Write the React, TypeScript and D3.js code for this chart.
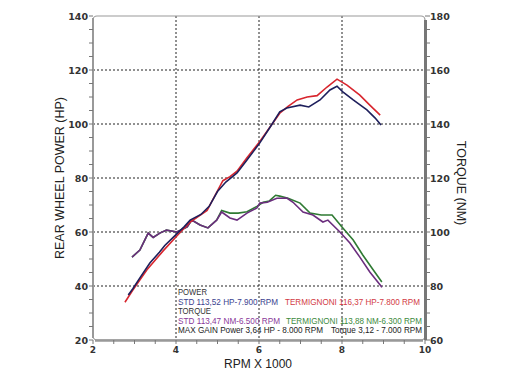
import React from "react";
import * as d3 from "d3";

// power (HP)
const stdPower: [number, number][] = [
  [2.85, 36.7], [2.96, 39], [3.13, 43], [3.37, 48.5], [3.6, 52.5], [3.73, 55], [4.0, 59],
  [4.2, 62], [4.34, 64.4], [4.6, 66.5], [4.8, 69.5], [5.0, 75], [5.2, 78.5], [5.47, 81.9],
  [5.71, 86.7], [6.02, 93], [6.27, 98.9], [6.5, 104.5], [6.67, 105.9], [6.99, 107],
  [7.2, 106.3], [7.47, 108.9], [7.71, 112.6], [7.88, 114], [8.02, 111.9], [8.27, 108.9],
  [8.6, 105.2], [8.8, 102.2], [8.94, 99.6],
];
const termiPower: [number, number][] = [
  [2.77, 34], [2.96, 38.5], [3.3, 46], [3.69, 53], [4.02, 58.5], [4.34, 63.7], [4.75, 68],
  [4.99, 75], [5.13, 79], [5.3, 80.5], [5.47, 82.5], [5.71, 87.5], [6.02, 93.5], [6.27, 99],
  [6.5, 104], [6.7, 106.5], [6.92, 108.9], [7.16, 110], [7.4, 110.5], [7.64, 113.7],
  [7.88, 116.6], [8.12, 114.4], [8.43, 110.7], [8.67, 107], [8.92, 103.3],
];

// torque (NM)
const stdTorque: [number, number][] = [
  [2.94, 90.7], [3.13, 93.3], [3.33, 99.6], [3.45, 98], [3.61, 99.6], [3.77, 100.7],
  [4.02, 100], [4.27, 101.9], [4.38, 104.4], [4.58, 102.6], [4.77, 101.5], [4.98, 104.4],
  [5.1, 107.4], [5.3, 105.2], [5.47, 104.4], [5.71, 107], [5.95, 108.9], [6.02, 110.7],
  [6.2, 111], [6.43, 112.5], [6.67, 112.6], [6.82, 111], [7.06, 107.4], [7.3, 106.3],
  [7.54, 103.7], [7.66, 104.4], [7.95, 100], [8.19, 95.9], [8.43, 90.7], [8.67, 85.2],
  [8.92, 80.4], [8.96, 79.5],
];
const termiTorque: [number, number][] = [
  [2.94, 90.7], [3.13, 93.3], [3.33, 99.6], [3.45, 98], [3.61, 99.6], [3.77, 100.7],
  [4.02, 100], [4.27, 101.9], [4.38, 104.4], [4.58, 102.6], [4.77, 101.5], [4.98, 104.4],
  [5.1, 108], [5.3, 107], [5.5, 107], [5.71, 107.5], [5.95, 109.5], [6.1, 111],
  [6.25, 111.5], [6.4, 113.6], [6.5, 113.3], [6.7, 112.5], [6.99, 110.7], [7.23, 107],
  [7.5, 106.3], [7.76, 106.3], [8.02, 101.5], [8.27, 97], [8.5, 91.5], [8.75, 86], [8.96, 81.5],
];

const rpmTicks = [2, 4, 6, 8, 10];
const hpTicks = [20, 40, 60, 80, 100, 120, 140];
const nmTicks = [60, 80, 100, 120, 140, 160, 180];

// legend rows: text, colour, start x, width
const legend = [
  [{ t: "POWER", c: "#333", x: 178, w: 29 }],
  [{ t: "STD 113,52 HP-7.900 RPM", c: "#3b3f8f", x: 178, w: 100 }, { t: "TERMIGNONI 116,37 HP-7.800 RPM", c: "#d23a44", x: 285, w: 135 }],
  [{ t: "TORQUE", c: "#333", x: 178, w: 33 }],
  [{ t: "STD 113,47 NM-6.500 RPM", c: "#8a3a9a", x: 178, w: 102 }, { t: "TERMIGNONI 113,88 NM-6.300 RPM", c: "#3d8a3d", x: 286, w: 136 }],
  [{ t: "MAX GAIN Power 3,64 HP - 8.000 RPM", c: "#222", x: 178, w: 145 }, { t: "Torque 3,12 - 7.000 RPM", c: "#222", x: 331, w: 91 }],
];

export default function App() {
  const x = d3.scaleLinear().domain([2, 10]).range([93, 425]);
  const yHp = d3.scaleLinear().domain([20, 140]).range([340, 16]);
  const yNm = d3.scaleLinear().domain([60, 180]).range([340, 16]);

  const hpLine = d3.line<[number, number]>().x(d => x(d[0])).y(d => yHp(d[1]));
  const nmLine = d3.line<[number, number]>().x(d => x(d[0])).y(d => yNm(d[1]));

  const hpMinor = d3.range(20, 141, 5);
  const nmMinor = d3.range(60, 181, 5);
  const rpmMinor = d3.range(2, 10.01, 0.5);
  const font = "Liberation Sans, Arial, sans-serif";
  const tickFont = "DejaVu Sans, sans-serif";

  return (
    <svg width={520} height={376} style={{ position: "absolute", left: 0, top: 0, background: "#fff" }}>
      {/* grid */}
      {[4, 6, 8].map(v => (
        <line key={"gx" + v} x1={x(v)} x2={x(v)} y1={16} y2={340} stroke="#222" strokeWidth={1} strokeDasharray="2,2" />
      ))}
      {[40, 60, 80, 100, 120].map(v => (
        <line key={"gy" + v} x1={93} x2={425} y1={yHp(v)} y2={yHp(v)} stroke="#222" strokeWidth={1} strokeDasharray="2,2" />
      ))}
      {/* frame */}
      <rect x={93} y={16} width={332} height={324} rx={4} fill="none" stroke="#999" strokeWidth={1.2} />
      <line x1={93} x2={93} y1={18} y2={338} stroke="#999" strokeWidth={2} />
      <line x1={95} x2={423} y1={340.5} y2={340.5} stroke="#999" strokeWidth={2.5} />
      <line x1={425.5} x2={425.5} y1={20} y2={340} stroke="#777" strokeWidth={3} />
      {hpMinor.map(v => (
        <line key={"hm" + v} x1={89} x2={93} y1={yHp(v)} y2={yHp(v)} stroke="#777" strokeWidth={1} />
      ))}
      {nmMinor.map(v => (
        <line key={"nm" + v} x1={425} x2={430} y1={yNm(v)} y2={yNm(v)} stroke="#777" strokeWidth={1} />
      ))}
      {rpmMinor.map(v => (
        <line key={"rm" + v} x1={x(v)} x2={x(v)} y1={340} y2={344} stroke="#777" strokeWidth={1} />
      ))}
      {/* tick labels */}
      {hpTicks.map(v => (
        <text key={"hl" + v} x={88} y={yHp(v) + 3.5} textAnchor="end" fontSize={9.5} fontWeight="bold" fontFamily={tickFont} fill="#333">{v}</text>
      ))}
      {nmTicks.map(v => (
        <text key={"nl" + v} x={430} y={yNm(v) + 3.5} fontSize={9.5} fontWeight="bold" fontFamily={tickFont} fill="#333">{v}</text>
      ))}
      {rpmTicks.map(v => (
        <text key={"rl" + v} x={x(v)} y={353} textAnchor="middle" fontSize={9} fontWeight="bold" fontFamily={tickFont} fill="#333">{v}</text>
      ))}
      {/* axis titles */}
      <text transform="translate(64,178) rotate(-90)" textAnchor="middle" fontSize={12.5} fontFamily={font} fill="#222">REAR WHEEL POWER (HP)</text>
      <text transform="translate(457,183) rotate(90)" textAnchor="middle" fontSize={12.5} fontFamily={font} fill="#222">TORQUE (NM)</text>
      <text x={258} y={368} textAnchor="middle" fontSize={12} fontFamily={font} fill="#222">RPM X 1000</text>
      {/* curves */}
      <path d={nmLine(termiTorque) || ""} fill="none" stroke="#2f7a33" strokeWidth={1.6} />
      <path d={nmLine(stdTorque) || ""} fill="none" stroke="#6b2e7e" strokeWidth={1.6} />
      <path d={hpLine(termiPower) || ""} fill="none" stroke="#d8262e" strokeWidth={1.6} />
      <path d={hpLine(stdPower) || ""} fill="none" stroke="#1e1f5c" strokeWidth={1.6} />
      {/* legend */}
      {legend.map((row, i) => (
        <g key={"lg" + i}>
          {row.map((p, j) => (
            <text key={j} x={p.x} y={295 + i * 9.6} fontSize={9} fontFamily={font} fill={p.c}
              textLength={p.w} lengthAdjust="spacingAndGlyphs">{p.t}</text>
          ))}
        </g>
      ))}
    </svg>
  );
}
